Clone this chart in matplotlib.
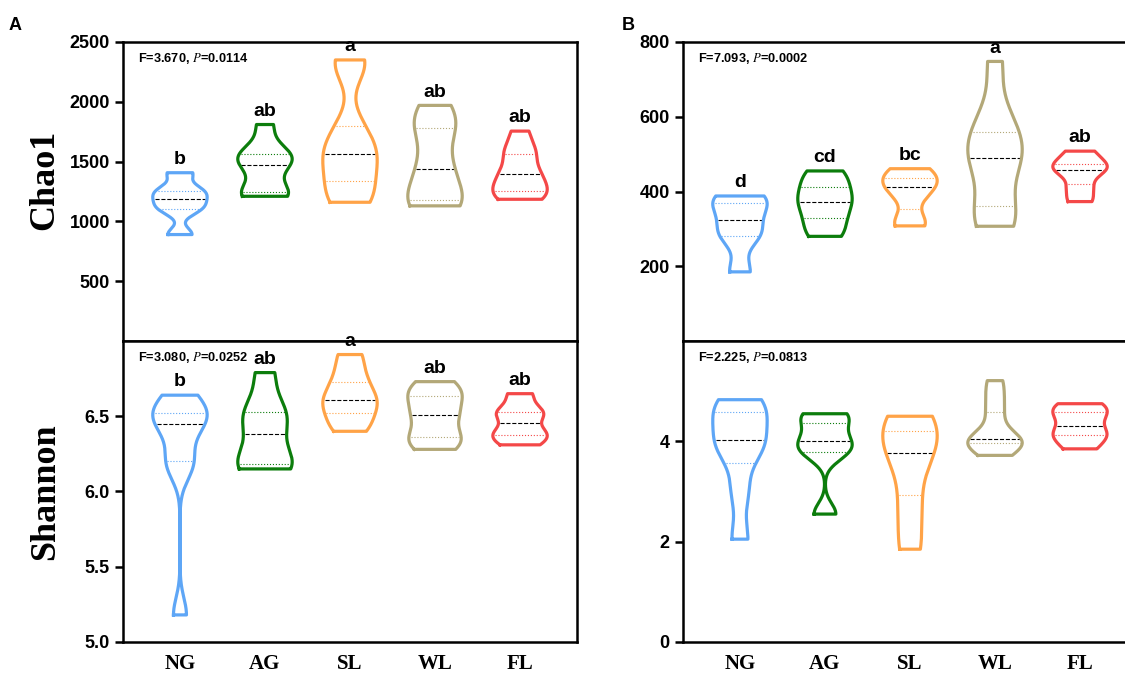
import numpy as np
import matplotlib
matplotlib.use('Agg')
import matplotlib.pyplot as plt

plt.rcParams['font.family'] = ['Liberation Sans', 'DejaVu Sans']
plt.rcParams['mathtext.fontset'] = 'stix'

groups = ['NG', 'AG', 'SL', 'WL', 'FL']
colors = ['#5ea6f6', '#0c7d0c', '#ffa347', '#b3a878', '#f44848']

# sample values per group
chao1_A = [[890, 1090, 1150, 1220, 1270, 1407],
           [1210, 1230, 1250, 1450, 1500, 1560, 1580, 1810],
           [1160, 1200, 1340, 1480, 1566, 1640, 1800, 2300, 2350],
           [1130, 1150, 1190, 1380, 1500, 1760, 1830, 1970],
           [1185, 1210, 1250, 1300, 1395, 1410, 1560, 1600, 1755]]
shannon_A = [[5.18, 6.17, 6.21, 6.42, 6.48, 6.51, 6.55, 6.64],
             [6.15, 6.17, 6.20, 6.38, 6.50, 6.55, 6.79],
             [6.40, 6.48, 6.56, 6.61, 6.68, 6.78, 6.91],
             [6.28, 6.34, 6.37, 6.49, 6.53, 6.63, 6.66, 6.73],
             [6.31, 6.37, 6.40, 6.51, 6.53, 6.65]]
chao1_B = [[185, 275, 300, 345, 378, 388],
           [280, 320, 360, 385, 420, 455],
           [308, 320, 385, 413, 425, 445, 461],
           [307, 325, 360, 470, 490, 510, 560, 600, 748],
           [373, 410, 450, 465, 478, 508]]
shannon_B = [[2.05, 3.0, 3.75, 3.95, 4.1, 4.55, 4.65, 4.83],
             [2.55, 3.75, 3.9, 4.1, 4.45, 4.55],
             [1.85, 2.7, 3.6, 3.95, 4.3, 4.5],
             [3.72, 3.93, 3.98, 4.02, 4.06, 4.5, 4.85, 5.21],
             [3.85, 4.1, 4.18, 4.45, 4.62, 4.75]]

letters_chao1_A = ['b', 'ab', 'a', 'ab', 'ab']
letters_shannon_A = ['b', 'ab', 'a', 'ab', 'ab']
letters_chao1_B = ['d', 'cd', 'bc', 'a', 'ab']

stats = ['F=3.670, ', '0.0114', 'F=3.080, ', '0.0252',
         'F=7.093, ', '0.0002', 'F=2.225, ', '0.0813']


def kde(data, grid, bw=0.8):
    # gaussian kde, silverman bandwidth
    data = np.asarray(data, float)
    q1, q3 = np.percentile(data, [25, 75])
    s = min(np.std(data, ddof=1), (q3 - q1) / 1.34)
    h = 0.9 * s * len(data) ** (-0.2) * bw
    z = (grid[:, None] - data[None, :]) / h
    return np.exp(-0.5 * z ** 2).sum(1)


def violins(ax, datasets, letters=None):
    for i, (d, c) in enumerate(zip(datasets, colors)):
        y = np.linspace(min(d), max(d), 300)
        dens = kde(d, y)
        w = dens / dens.max() * 0.32
        xs = np.concatenate([i - w, (i + w)[::-1], [i - w[0]]])
        ys = np.concatenate([y, y[::-1], [y[0]]])
        ax.plot(xs, ys, color=c, lw=2.3, solid_joinstyle='round', zorder=3)
        q1, med, q3 = np.percentile(d, [25, 50, 75])
        for q, ls, col, lw in [(q1, ':', c, 0.8), (q3, ':', c, 0.8),
                               (med, '--', 'k', 0.8)]:
            hw = np.interp(q, y, w) - 0.02
            ax.plot([i - hw, i + hw], [q, q], ls=ls, color=col, lw=lw, zorder=2)
        if letters:
            ax.annotate(letters[i], (i, max(d)), xytext=(0, 3.5),
                        textcoords='offset points', ha='center', va='bottom',
                        fontsize=14, fontweight='bold')


def style(ax, bottom):
    for s in ax.spines.values():
        s.set_linewidth(1.8)
    ax.set_xlim(-0.67, 4.67)
    ax.tick_params(axis='y', direction='out', length=6, width=1.8,
                   labelsize=13)
    for t in ax.get_yticklabels():
        t.set_fontweight('bold')
    if bottom:
        ax.set_xticks(range(5))
        ax.set_xticklabels(groups, family='Liberation Serif',
                           fontweight='bold', fontsize=15)
        ax.tick_params(axis='x', length=0, pad=8.5)
    else:
        ax.set_xticks([])


def stat_text(ax, f, p):
    ax.text(0.033, 0.945, f + r'$\mathit{P}$=' + p, transform=ax.transAxes,
            fontsize=9.2, fontweight='bold', va='center')


fig = plt.figure(figsize=(11.25, 6.73), dpi=100)
W = 454 / 1125
axA1 = fig.add_axes([123 / 1125, 1 - 341 / 673, W, 299 / 673])
axA2 = fig.add_axes([123 / 1125, 1 - 642 / 673, W, 301 / 673])
axB1 = fig.add_axes([683 / 1125, 1 - 341 / 673, W, 299 / 673])
axB2 = fig.add_axes([683 / 1125, 1 - 642 / 673, W, 301 / 673])

violins(axA1, chao1_A, letters_chao1_A)
axA1.set_ylim(0, 2500)
axA1.set_yticks([500, 1000, 1500, 2000, 2500])
style(axA1, False)
stat_text(axA1, stats[0], stats[1])

violins(axA2, shannon_A, letters_shannon_A)
axA2.set_ylim(5.0, 7.0)
axA2.set_yticks([5.0, 5.5, 6.0, 6.5])
axA2.set_yticklabels(['5.0', '5.5', '6.0', '6.5'])
style(axA2, True)
stat_text(axA2, stats[2], stats[3])

violins(axB1, chao1_B, letters_chao1_B)
axB1.set_ylim(0, 800)
axB1.set_yticks([200, 400, 600, 800])
style(axB1, False)
stat_text(axB1, stats[4], stats[5])

violins(axB2, shannon_B)
axB2.set_ylim(0, 6)
axB2.set_yticks([0, 2, 4])
style(axB2, True)
stat_text(axB2, stats[6], stats[7])

for ax, lab, yc in [(axA1, 'Chao1', 0.54), (axA2, 'Shannon', 0.5)]:
    ax.set_ylabel(lab, family='Liberation Serif', fontweight='bold',
                  fontsize=26)
    ax.yaxis.set_label_coords(-0.135, yc)

fig.text(15 / 1125, 1 - 25 / 673, 'A', fontsize=13, fontweight='bold',
         va='center', ha='center')
fig.text(628 / 1125, 1 - 25 / 673, 'B', fontsize=13, fontweight='bold',
         va='center', ha='center')

fig.savefig('out.png', dpi=100)
